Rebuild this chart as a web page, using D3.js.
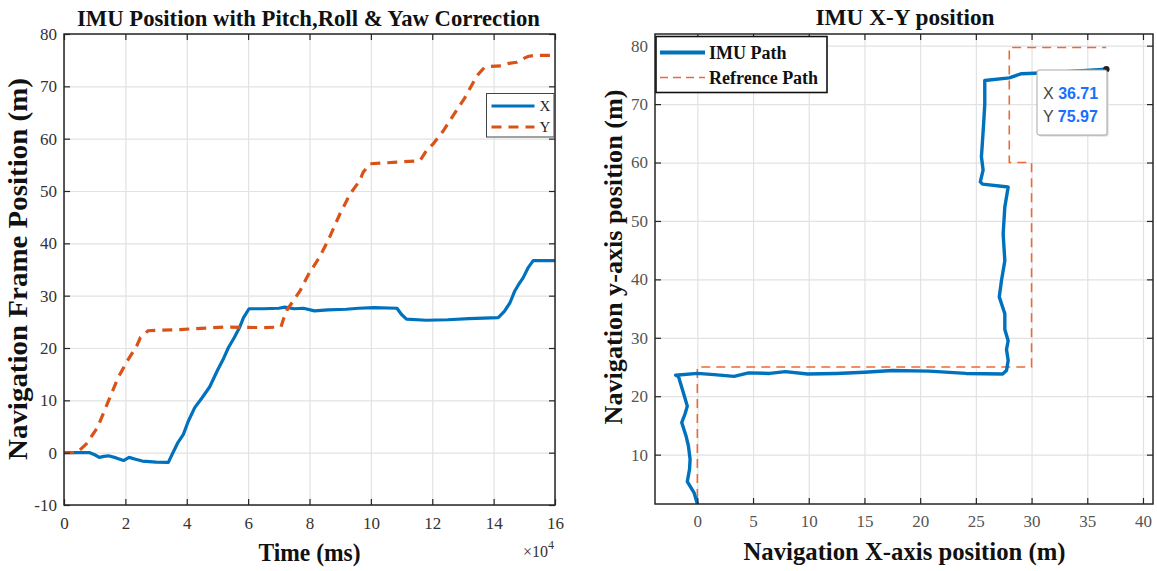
<!DOCTYPE html>
<html>
<head>
<meta charset="utf-8">
<script src="https://cdn.jsdelivr.net/npm/d3@7/dist/d3.min.js"></script>
<style>
  html, body { margin: 0; padding: 0; background: #fff; }
  svg { display: block; }
</style>
</head>
<body>
<svg id="fig" width="1157" height="571" font-family='"Liberation Serif", "Times New Roman", serif'></svg>
<script>
// ---------- Left panel: position vs time (time in units of 1e4 ms) ----------
const timeTicks = [0, 2, 4, 6, 8, 10, 12, 14, 16];
const posTicks = [-10, 0, 10, 20, 30, 40, 50, 60, 70, 80];

// X position [time, metres]
const xPosition = [
  [0, 0], [0.42, 0], [0.84, 0.0], [1.0, -0.4], [1.15, -0.9], [1.3, -0.7], [1.45, -0.6],
  [1.7, -1.0], [1.94, -1.5], [2.12, -0.9], [2.3, -1.2], [2.55, -1.6], [3.0, -1.8],
  [3.4, -1.85], [3.53, -0.25], [3.7, 1.8], [3.89, 3.5], [4.05, 6.0], [4.26, 8.6],
  [4.5, 10.5], [4.75, 12.6], [4.99, 15.6], [5.2, 18.0], [5.36, 20.1], [5.55, 22.0],
  [5.72, 23.9], [5.85, 25.8], [6.03, 27.5], [6.5, 27.5], [7.0, 27.6], [7.19, 27.8],
  [7.5, 27.5], [7.8, 27.6], [8.16, 27.1], [8.6, 27.3], [9.2, 27.4], [9.6, 27.6],
  [10.1, 27.7], [10.85, 27.6], [11.0, 26.4], [11.16, 25.5], [11.8, 25.3], [12.5, 25.4],
  [13.2, 25.6], [14.15, 25.8], [14.35, 27.0], [14.53, 28.6], [14.69, 30.9], [14.8, 32.0],
  [14.96, 33.4], [15.12, 35.3], [15.29, 36.7], [16, 36.7]
];

// Y position [time, metres]
const yPosition = [
  [0, 0], [0.42, 0], [0.72, 1.6], [1.09, 4.8], [1.45, 9.9], [1.76, 14.3], [2.06, 17.5],
  [2.37, 20.4], [2.49, 22.0], [2.74, 23.3], [3.2, 23.4], [3.78, 23.5], [4.26, 23.7],
  [5.23, 24.0], [6.45, 23.9], [7.07, 24.0], [7.15, 25.5], [7.26, 27.2], [7.69, 30.9],
  [7.96, 34.0], [8.34, 37.5], [8.61, 40.6], [8.99, 45.6], [9.32, 49.4], [9.64, 52.0],
  [9.75, 53.6], [9.97, 55.2], [10.84, 55.5], [11.6, 55.8], [11.81, 57.7], [12.03, 59.0],
  [12.36, 61.5], [12.68, 64.4], [13.06, 67.8], [13.39, 71.3], [13.5, 72.3], [13.7, 73.6],
  [13.88, 73.8], [14.26, 73.9], [14.5, 74.4], [14.75, 74.6], [15.0, 75.4], [15.12, 75.7],
  [15.3, 75.9], [16, 75.9]
];

const seriesNames = ["X", "Y"];

// ---------- Right panel: X-Y trajectory ----------
const navXTicks = [0, 5, 10, 15, 20, 25, 30, 35, 40];
const navYTicks = [10, 20, 30, 40, 50, 60, 70, 80];

const imuPathX = [0, 0, -0.3, -0.9, -0.7, -0.65, -0.8, -1.0, -1.4, -1.1, -0.9, -1.1, -1.3, -1.7, -1.95,
  0, 1.5, 3.3, 4.6, 6.5, 7.9, 9.9, 12.5, 15, 17.5, 20.8, 24.1, 27.4, 27.75, 27.9, 27.75, 27.9,
  27.6, 27.6, 27.1, 27.3, 27.6, 27.45, 27.6, 27.9, 25.6, 25.4, 25.65, 25.5, 25.6, 25.7, 25.8,
  25.8, 28.0, 29.1, 32.0, 36.71];
const imuPathY = [0, 1.6, 3.5, 5.4, 7.5, 9.2, 11.5, 13.1, 15.5, 17.0, 18.3, 19.6, 20.9, 23.4, 23.6,
  23.9, 23.7, 23.4, 24.0, 23.9, 24.2, 23.8, 23.9, 24.1, 24.4, 24.3, 23.9, 23.8, 24.4, 26.1, 28.0, 29.5,
  31.4, 34.1, 37.0, 39.8, 43.2, 47.8, 52.4, 55.8, 56.3, 56.7, 58.7, 61.0, 63.8, 66.7, 70.0,
  74.05, 74.5, 75.2, 75.4, 75.97];

const refPathX = [0, 0, 30, 30, 28, 28, 36.7];
const refPathY = [0, 25, 25, 60, 60, 79.7, 79.7];

const pathNames = ["IMU Path", "Refrence Path"];

// ---------- styling ----------
const SERIF = '"Liberation Serif", "Times New Roman", serif';
const SANS = '"Liberation Sans", Arial, sans-serif';
const BLUE = "#0072BD";
const ORANGE = "#D95319";
const ORANGE_LIGHT = "#EC6B35";
const GRID = "#e2e2e2";
const plain = d => String(d);   // keep an ASCII hyphen for negatives

const svg = d3.select("#fig");

function drawGrid(g, x, y, xt, yt, w, h) {
  g.append("g").attr("transform", `translate(0,${h})`)
    .call(d3.axisBottom(x).tickValues(xt).tickSize(-h).tickFormat(""))
    .call(s => s.select(".domain").remove())
    .call(s => s.selectAll("line").attr("stroke", GRID).attr("stroke-width", 1.2));
  g.append("g")
    .call(d3.axisLeft(y).tickValues(yt).tickSize(-w).tickFormat(""))
    .call(s => s.select(".domain").remove())
    .call(s => s.selectAll("line").attr("stroke", GRID).attr("stroke-width", 1.2));
}

function drawAxes(g, x, y, xt, yt, w, h, labelColor, labelSize, padX, padY) {
  const style = s => {
    s.attr("font-family", SERIF);
    s.select(".domain").remove();
    s.selectAll("line").attr("stroke", "#262626").attr("stroke-width", 1.2);
    s.selectAll("text").attr("fill", labelColor).attr("font-size", labelSize);
  };
  g.append("g").attr("transform", `translate(0,${h})`)
    .call(d3.axisBottom(x).tickValues(xt).tickFormat(plain).tickSizeInner(-6).tickSizeOuter(0).tickPadding(padX)).call(style);
  g.append("g")
    .call(d3.axisTop(x).tickValues(xt).tickSizeInner(-6).tickSizeOuter(0).tickFormat("")).call(style);
  g.append("g")
    .call(d3.axisLeft(y).tickValues(yt).tickFormat(plain).tickSizeInner(-6).tickSizeOuter(0).tickPadding(padY)).call(style);
  g.append("g").attr("transform", `translate(${w},0)`)
    .call(d3.axisRight(y).tickValues(yt).tickSizeInner(-6).tickSizeOuter(0).tickFormat("")).call(style);
  g.append("rect").attr("width", w).attr("height", h)
    .attr("fill", "none").attr("stroke", "#262626").attr("stroke-width", 1.5);
}

// ================= Left panel =================
{
  const L = { left: 64, right: 555, top: 34, bottom: 505 };
  const w = L.right - L.left, h = L.bottom - L.top;
  const g = svg.append("g").attr("transform", `translate(${L.left},${L.top})`);
  const x = d3.scaleLinear().domain([0, 16]).range([0, w]);
  const y = d3.scaleLinear().domain([-10, 80]).range([h, 0]);

  drawGrid(g, x, y, timeTicks, posTicks, w, h);

  g.append("clipPath").attr("id", "clipL").append("rect").attr("width", w).attr("height", h);
  const line = d3.line().x(d => x(d[0])).y(d => y(d[1]));
  const lines = g.append("g").attr("clip-path", "url(#clipL)");
  lines.append("path").datum(xPosition).attr("d", line)
    .attr("fill", "none").attr("stroke", BLUE).attr("stroke-width", 3.2).attr("stroke-linejoin", "round");
  lines.append("path").datum(yPosition).attr("d", line)
    .attr("fill", "none").attr("stroke", ORANGE).attr("stroke-width", 3.2)
    .attr("stroke-dasharray", "10,7");

  drawAxes(g, x, y, timeTicks, posTicks, w, h, "#333", "17px", 12, 7);

  // legend
  const lg = svg.append("g").attr("transform", "translate(486.5,93.5)");
  lg.append("rect").attr("width", 67.5).attr("height", 43.5)
    .attr("fill", "#fff").attr("stroke", "#444").attr("stroke-width", 1);
  const lcol = [BLUE, ORANGE];
  seriesNames.forEach((n, i) => {
    const yy = 12.5 + i * 21;
    lg.append("line").attr("x1", 5).attr("x2", 48).attr("y1", yy).attr("y2", yy)
      .attr("stroke", lcol[i]).attr("stroke-width", 3.2)
      .attr("stroke-dasharray", i === 1 ? "10,7" : null);
    lg.append("text").attr("x", 53).attr("y", yy + 5).attr("font-size", "15px")
      .attr("fill", "#222").text(n);
  });

  // titles
  svg.append("text").attr("x", 308.5).attr("y", 26).attr("text-anchor", "middle")
    .attr("font-size", "23px").attr("font-weight", "bold").attr("fill", "#111")
    .attr("textLength", 463).attr("lengthAdjust", "spacingAndGlyphs")
    .text("IMU Position with Pitch,Roll & Yaw Correction");
  svg.append("text").attr("x", 309.5).attr("y", 561).attr("text-anchor", "middle")
    .attr("font-size", "26px").attr("font-weight", "bold").attr("fill", "#111")
    .attr("textLength", 102).attr("lengthAdjust", "spacingAndGlyphs")
    .text("Time (ms)");
  svg.append("text").attr("transform", "translate(27,269) rotate(-90)").attr("text-anchor", "middle")
    .attr("font-size", "27px").attr("font-weight", "bold").attr("fill", "#111")
    .attr("textLength", 382).attr("lengthAdjust", "spacingAndGlyphs")
    .text("Navigation Frame Position (m)");
  const ex = svg.append("text").attr("x", 523).attr("y", 557).attr("font-size", "16px").attr("fill", "#333");
  ex.append("tspan").text("\u00d710");
  ex.append("tspan").attr("dy", -8).attr("font-size", "12px").text("4");
}

// ================= Right panel =================
{
  const R = { left: 655, right: 1153, top: 34, bottom: 504 };
  const w = R.right - R.left, h = R.bottom - R.top;
  const g = svg.append("g").attr("transform", `translate(${R.left},${R.top})`);
  const x = d3.scaleLinear().domain([-3.8, 40.9]).range([0, w]);
  const y = d3.scaleLinear().domain([1.55, 82]).range([h, 0]);

  drawGrid(g, x, y, navXTicks, navYTicks, w, h);

  g.append("clipPath").attr("id", "clipR").append("rect").attr("width", w).attr("height", h);
  const line = d3.line().x(d => x(d[0])).y(d => y(d[1]));
  const imu = imuPathX.map((v, i) => [v, imuPathY[i]]);
  const ref = refPathX.map((v, i) => [v, refPathY[i]]);
  const lines = g.append("g").attr("clip-path", "url(#clipR)");
  lines.append("path").datum(ref).attr("d", line)
    .attr("fill", "none").attr("stroke", ORANGE_LIGHT).attr("stroke-width", 1.6)
    .attr("stroke-dasharray", "9,6");
  lines.append("path").datum(imu).attr("d", line)
    .attr("fill", "none").attr("stroke", BLUE).attr("stroke-width", 3.4)
    .attr("stroke-linejoin", "round").attr("stroke-linecap", "round");

  drawAxes(g, x, y, navXTicks, navYTicks, w, h, "#555", "17px", 11, 7);

  // data tip on the final point
  const last = imu[imu.length - 1];
  g.append("circle").attr("cx", x(last[0])).attr("cy", y(last[1])).attr("r", 3.2).attr("fill", "#222");
  const tip = svg.append("g").attr("transform", "translate(1037,70)");
  tip.append("rect").attr("x", 1.5).attr("y", 1.5).attr("width", 70).attr("height", 65).attr("rx", 2)
    .attr("fill", "#d8d8d8");
  tip.append("rect").attr("width", 70).attr("height", 65).attr("rx", 2)
    .attr("fill", "#fff").attr("stroke", "#a8a8a8").attr("stroke-width", 1);
  [["X", last[0]], ["Y", last[1]]].forEach((d, i) => {
    const t = tip.append("text").attr("x", 6).attr("y", 29 + i * 23)
      .attr("font-family", SANS).attr("font-size", "16px");
    t.append("tspan").attr("fill", "#444").text(d[0] + " ");
    t.append("tspan").attr("fill", "#1a6fff").attr("font-weight", "bold").text(d3.format(".2f")(d[1]));
  });

  // legend
  const lg = svg.append("g").attr("transform", "translate(656,36.5)");
  lg.append("rect").attr("width", 171).attr("height", 56)
    .attr("fill", "#fff").attr("stroke", "#111").attr("stroke-width", 1.6);
  pathNames.forEach((n, i) => {
    const yy = 16 + i * 25;
    lg.append("line").attr("x1", 4).attr("x2", 49).attr("y1", yy).attr("y2", yy)
      .attr("stroke", i === 0 ? BLUE : ORANGE_LIGHT).attr("stroke-width", i === 0 ? 4 : 1.6)
      .attr("stroke-dasharray", i === 1 ? "8,5" : null);
    lg.append("text").attr("x", 53).attr("y", yy + 6).attr("font-size", "18px")
      .attr("font-weight", "bold").attr("fill", "#111").text(n);
  });

  svg.append("text").attr("x", 905).attr("y", 25).attr("text-anchor", "middle")
    .attr("font-size", "23px").attr("font-weight", "bold").attr("fill", "#111")
    .attr("textLength", 179).attr("lengthAdjust", "spacingAndGlyphs")
    .text("IMU X-Y position");
  svg.append("text").attr("x", 904.5).attr("y", 560).attr("text-anchor", "middle")
    .attr("font-size", "25px").attr("font-weight", "bold").attr("fill", "#111")
    .attr("textLength", 322).attr("lengthAdjust", "spacingAndGlyphs")
    .text("Navigation X-axis position (m)");
  svg.append("text").attr("transform", "translate(622,257) rotate(-90)").attr("text-anchor", "middle")
    .attr("font-size", "25px").attr("font-weight", "bold").attr("fill", "#111")
    .attr("textLength", 335).attr("lengthAdjust", "spacingAndGlyphs")
    .text("Navigation y-axis position (m)");
}
</script>
</body>
</html>
